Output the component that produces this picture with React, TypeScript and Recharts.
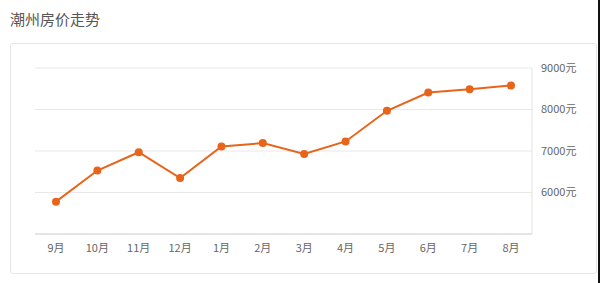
import { LineChart, Line, XAxis, YAxis, CartesianGrid } from "recharts";

const months = ["9月", "10月", "11月", "12月", "1月", "2月", "3月", "4月", "5月", "6月", "7月", "8月"];
const prices = [5780, 6530, 6970, 6350, 7110, 7190, 6930, 7230, 7970, 8410, 8490, 8580];
const priceTicks = [6000, 7000, 8000, 9000];

const data = months.map((m, i) => ({ month: m, price: prices[i] }));

const FONT = '"Noto Sans CJK SC", "Noto Sans", sans-serif';
const ORANGE = "#E8641B";

export default function App() {
  return (
    <div style={{ position: "absolute", left: 0, top: 0, width: 600, height: 283, background: "#fff", fontFamily: FONT, overflow: "hidden" }}>
      <div style={{ position: "absolute", left: 10, top: 8, fontSize: 15, color: "#555", lineHeight: "22px" }}>
        潮州房价走势
      </div>
      <div style={{ position: "absolute", left: 10, top: 43, width: 585, height: 229, border: "1px solid #e6e6e6", borderRadius: 3 }} />
      <div style={{ position: "absolute", left: 598, top: 0, width: 2, height: 283, background: "#111" }} />
      <div style={{ position: "absolute", left: 0, top: 0 }}>
        <LineChart width={600} height={283} data={data} margin={{ top: 68, right: 8, left: 35, bottom: 0 }}>
          <CartesianGrid vertical={false} stroke="#e8e8e8" strokeWidth={1} />
          <XAxis
            dataKey="month"
            padding={{ left: 21, right: 21 }}
            axisLine={{ stroke: "#d6d6d6" }}
            tickLine={false}
            tickSize={0}
            tickMargin={10}
            tick={{ fill: "#666", fontSize: 11, fontFamily: FONT }}
            interval={0}
            height={49}
          />
          <YAxis
            orientation="right"
            domain={[5000, 9000]}
            ticks={priceTicks}
            tickFormatter={(v: number) => `${v}元`}
            axisLine={{ stroke: "#e3e3e3" }}
            tickLine={false}
            tickSize={0}
            tickMargin={9}
            width={60}
            tick={{ fill: "#666", fontSize: 11, fontFamily: FONT }}
          />
          <Line
            type="linear"
            dataKey="price"
            stroke={ORANGE}
            strokeWidth={2}
            dot={{ r: 4, fill: ORANGE, stroke: ORANGE, strokeWidth: 0 }}
            isAnimationActive={false}
          />
        </LineChart>
      </div>
    </div>
  );
}
